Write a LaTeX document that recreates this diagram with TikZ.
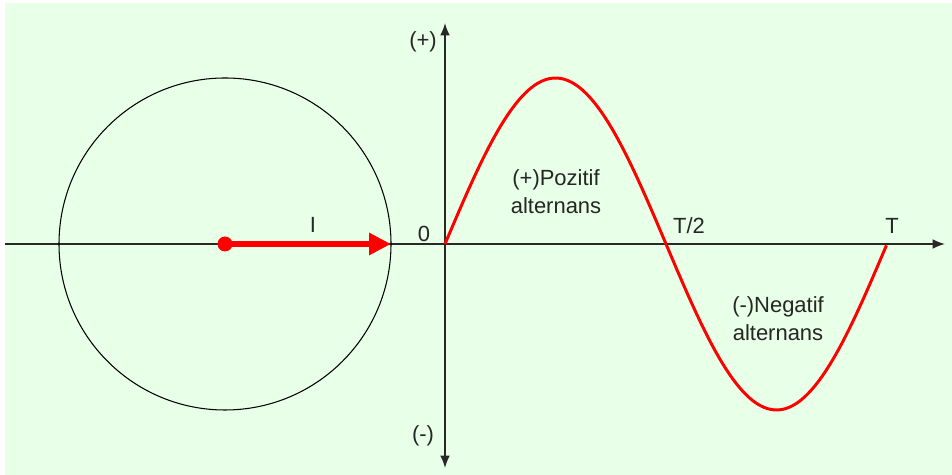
\documentclass[tikz,border=0pt]{standalone}
\usepackage{fontspec}
\setmainfont{Liberation Sans}
\usetikzlibrary{arrows.meta}
\definecolor{bggreen}{RGB}{232,255,232}
\definecolor{axisgray}{RGB}{40,40,40}

\begin{document}
\begin{tikzpicture}[x=0.02cm, y=0.02cm,
  >={Latex[length=7pt,width=5.5pt]},
  axis/.style={draw=axisgray, line width=0.9pt},
  lbl/.style={font=\fontsize{12.5pt}{16pt}\selectfont, text=black!85, inner sep=0pt, align=center},
  wave/.style={red, line width=1.7pt}]
\useasboundingbox (0,0) rectangle (952,475);
\fill[bggreen] (5,0) rectangle (952,472);
% axes
\coordinate (xl) at (5,231);
\coordinate (xr) at (945,231);
\coordinate (yb) at (445,7);
\coordinate (yt) at (445,452);
\coordinate (O) at (445,231);
\draw[axis, ->] (xl) -- (xr);
\draw[axis, <->] (yb) -- (yt);
% phasor circle
\coordinate (C) at (225,231);
\coordinate (R) at (391,231);
\draw[black, line width=0.6pt] (C) circle[radius=166];
\fill[red] (C) circle[radius=7.5];
\draw[red, line width=3.3pt, -{Triangle[length=12.5pt,width=12pt]}] (C) -- (R);
% sine wave
\draw[wave] plot[domain=0:1, samples=120, smooth] ({445+442*\x}, {231+166*sin(360*\x)});
% labels
\node[lbl] (I) at (313,250) {I};
\node[lbl] (zero) at (424,241) {0};
\node[lbl] (plus) at (423,433) {(+)};
\node[lbl] (minus) at (423,39) {(-)};
\node[lbl] (half) at (689,249) {T/2};
\node[lbl] (T) at (892,249) {T};
\node[lbl] (pos) at (556,283) {(+)Pozitif\\alternans};
\node[lbl] (neg) at (778,156) {(-)Negatif\\alternans};
\end{tikzpicture}
\end{document}
